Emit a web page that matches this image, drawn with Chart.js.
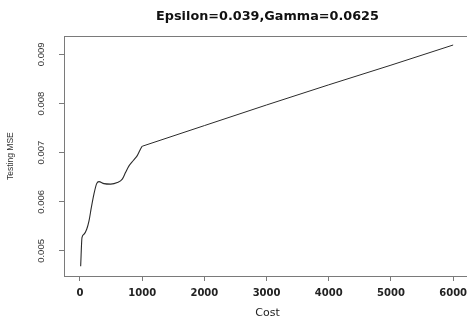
<!DOCTYPE html>
<html>
<head>
<meta charset="utf-8">
<script src="https://cdn.jsdelivr.net/npm/chart.js@4/dist/chart.umd.min.js"></script>
<style>
  html, body { margin: 0; padding: 0; background: #fff; overflow: hidden; }
  #clip { width: 467px; height: 322px; overflow: hidden; position: relative; }
  #mse { display: block; }
</style>
</head>
<body>
<div id="clip"><canvas id="mse" width="471" height="322"></canvas></div>
<script>
// values: a wiggly part up to cost 1000, then a straight run
var costLow = [11, 32, 64, 108, 145, 182, 225, 268, 305, 386, 493, 600, 680, 734, 788, 857, 921, 976, 1000];
var mseLow = [0.00469, 0.00527, 0.00534, 0.00544, 0.00561, 0.00588, 0.00616, 0.00637, 0.00641, 0.00637, 0.00636, 0.00639, 0.00646, 0.0066, 0.00673, 0.00684, 0.00694, 0.00708, 0.00713];
var costHigh = [1000, 2000, 3000, 4000, 5000, 6000];
var mseHigh = [0.00713, 0.00755, 0.00797, 0.00838, 0.00878, 0.00919];
var xTicks = [0, 1000, 2000, 3000, 4000, 5000, 6000];
var yTicks = [0.005, 0.006, 0.007, 0.008, 0.009];
var titleText = 'Epsilon=0.039,Gamma=0.0625';
var xLabel = 'Cost';
var yLabel = 'Testing MSE';

function toPoints(xs, ys) {
    return xs.map(function (c, i) { return { x: c, y: ys[i] }; });
}

function fixTicks(values) {
    return function (scale) {
        scale.ticks = values.map(function (v) { return { value: v }; });
    };
}

var axisGrey = '#7a7a7a';
var lineColor = '#2b2b2b';

// top edge of the plot box (R draws a box, its right side falls just off the picture)
// and keep the far right strip inside the plot clean
var boxEdges = {
    id: 'boxEdges',
    beforeDatasetsDraw: function (chart) {
        var a = chart.chartArea;
        var ctx = chart.ctx;
        ctx.save();
        ctx.strokeStyle = axisGrey;
        ctx.lineWidth = 1;
        ctx.beginPath();
        ctx.moveTo(a.left, Math.round(a.top) + 0.5);
        ctx.lineTo(a.right + 5, Math.round(a.top) + 0.5);
        ctx.stroke();
        ctx.restore();
    },
    afterDraw: function (chart) {
        var a = chart.chartArea;
        var ctx = chart.ctx;
        ctx.save();
        ctx.fillStyle = '#fff';
        ctx.fillRect(462, Math.round(a.top) + 1, chart.width - 462, Math.round(a.bottom) - Math.round(a.top) - 1);
        ctx.restore();
    }
};

new Chart(document.getElementById('mse'), {
    type: 'line',
    data: {
        datasets: [{
            data: toPoints(costLow, mseLow),
            borderColor: lineColor,
            borderWidth: 1.1,
            pointRadius: 0,
            fill: false,
            cubicInterpolationMode: 'monotone'
        }, {
            data: toPoints(costHigh, mseHigh),
            borderColor: lineColor,
            borderWidth: 1,
            pointRadius: 0,
            fill: false,
            tension: 0
        }]
    },
    options: {
        responsive: false,
        animation: false,
        layout: { padding: 0 },
        plugins: {
            legend: { display: false },
            tooltip: { enabled: false },
            title: {
                display: true,
                text: titleText,
                fullSize: false,
                color: '#111',
                font: { family: 'DejaVu Sans', size: 12.8, weight: 'bold', lineHeight: 1.2 },
                padding: { top: 9.4, bottom: 11.4 }
            }
        },
        scales: {
            x: {
                type: 'linear',
                position: 'bottom',
                min: -257,
                max: 6287,
                afterBuildTicks: fixTicks(xTicks),
                afterFit: function (s) { s.height = 46; s.paddingLeft = 0; s.paddingRight = 0; },
                grid: { drawOnChartArea: false, drawTicks: true, tickLength: 5, color: axisGrey },
                border: { display: true, color: axisGrey, width: 1 },
                ticks: {
                    maxRotation: 0,
                    autoSkip: false,
                    padding: 6,
                    color: '#222',
                    font: { family: 'DejaVu Sans', size: 10, weight: 'bold' },
                    callback: function (v) { return String(v); }
                },
                title: {
                    display: true,
                    text: xLabel,
                    color: '#222',
                    font: { family: 'DejaVu Sans', size: 11, lineHeight: 1.2 },
                    padding: { top: 0, bottom: 2.7 }
                }
            },
            y: {
                type: 'linear',
                position: 'left',
                min: 0.00449,
                max: 0.00937,
                afterBuildTicks: fixTicks(yTicks),
                afterFit: function (s) { s.width = 64; s.paddingTop = 0; s.paddingBottom = 0; },
                grid: { drawOnChartArea: false, drawTicks: true, tickLength: 5, color: axisGrey },
                border: { display: true, color: axisGrey, width: 1 },
                ticks: {
                    minRotation: 90,
                    maxRotation: 90,
                    autoSkip: false,
                    crossAlign: 'center',
                    padding: 6,
                    color: '#333',
                    font: { family: 'Liberation Sans', size: 9.5 },
                    callback: function (v) { return Number(v).toFixed(3); }
                },
                title: {
                    display: true,
                    text: yLabel,
                    color: '#333',
                    font: { family: 'Liberation Sans', size: 8.5, lineHeight: 1.2 },
                    padding: { top: 5.7, bottom: 0 }
                }
            }
        }
    },
    plugins: [boxEdges]
});
</script>
</body>
</html>
